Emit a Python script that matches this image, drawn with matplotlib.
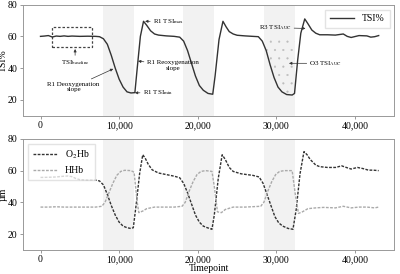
import matplotlib
matplotlib.use('Agg')
import matplotlib.pyplot as plt
from matplotlib.ticker import FuncFormatter

plt.rcParams['font.family'] = ['Liberation Serif', 'DejaVu Serif']
plt.rcParams['mathtext.fontset'] = 'stix'
plt.rcParams['hatch.linewidth'] = 0.3

# timepoints (thousands) and values
tsi_t = [0, 0.5, 1, 1.5, 2, 2.5, 3, 3.5, 4, 5, 6, 7, 7.5, 8, 8.5, 9, 9.5, 10, 10.5, 11, 11.5, 12,
         12.3, 12.7, 13.1, 13.5, 14, 14.5, 15, 16, 17, 17.7, 18.2, 18.7, 19.2, 19.7, 20.2, 20.7, 21.3, 21.9,
         22.2, 22.7, 23.2, 23.6, 24, 24.5, 25, 26, 27, 27.7, 28.2, 28.7, 29.2, 29.7, 30.2, 30.7, 31.3, 32,
         32.3, 32.7, 33.1, 33.6, 34, 34.5, 35, 35.5, 36.5, 37.5, 38.5, 39, 39.5, 40.5, 41.5, 42, 42.5, 43]
tsi = [60, 60.2, 60.5, 59.6, 60.2, 60, 60.3, 60, 60.2, 60, 60.1, 60, 59.8, 58.5, 55, 48, 40, 33, 28, 25, 24.3, 24.5,
       40, 60, 69.5, 67, 63.5, 61.5, 60.8, 60.3, 60, 59.5, 57, 51, 43, 35, 29, 26, 24, 23.5,
       35, 58, 69.5, 66, 63, 61.5, 60.7, 60.3, 60, 59.8, 57, 51, 42, 34, 28, 25, 23.3, 23,
       24, 45, 62, 71, 68, 64, 62, 61, 61, 60.8, 61.5, 60, 59.3, 60.5, 60.3, 59.5, 59.8, 60.5]

o2_t = [0, 1, 2, 3, 3.5, 4, 4.5, 5, 6, 7, 7.5, 8, 8.5, 9, 9.5, 10, 10.5, 11, 11.5, 11.8,
        12.2, 12.6, 13, 13.3, 13.7, 14.2, 15, 16, 17, 17.7, 18.2, 18.7, 19.2, 19.7, 20.2, 20.7, 21.2, 21.8,
        22.1, 22.6, 23.1, 23.5, 24, 24.5, 25.5, 27, 27.8, 28.3, 28.8, 29.3, 29.8, 30.3, 30.8, 31.5, 32.1,
        32.5, 33, 33.5, 33.9, 34.3, 35, 35.5, 36.5, 37.5, 38.3, 39, 39.5, 40.3, 41, 41.7, 42.3, 43]
o2hb = [55.7, 55.8, 56, 56.5, 56.6, 56.2, 55, 54.3, 54, 54, 53.5, 51, 45, 38, 32, 27.5, 25, 24, 23.5, 24,
        40, 58, 70, 68, 64, 60.5, 58.5, 57.5, 56.5, 55.5, 52, 46, 39, 32, 27.5, 25, 24, 23,
        32, 55, 70, 67, 62, 59.5, 58, 57, 56, 52, 45, 38, 31, 27, 25, 23.5, 23,
        35, 58, 72, 70, 67, 63.5, 62.5, 62, 62, 63, 61.8, 61, 62, 61.3, 60.3, 60.3, 60]

hh_t = [0, 1, 2, 3, 4, 5, 6, 7, 7.8, 8.2, 8.7, 9.2, 9.7, 10.2, 10.7, 11.5, 11.9,
        12.3, 12.5, 13, 13.5, 14.5, 16, 17, 18, 18.4, 18.9, 19.4, 19.9, 20.4, 21, 21.8,
        22.1, 22.5, 23, 23.5, 24.5, 26, 28, 28.4, 28.9, 29.4, 29.9, 30.4, 31, 32,
        32.4, 32.8, 33.3, 34, 35, 36, 37.5, 38.5, 39.5, 40.5, 41.5, 42.5, 43]
hhb = [37, 37, 37.2, 37, 37, 37, 37, 37, 37.5, 40, 46, 52, 57, 59.5, 60.2, 60, 59,
       40, 33.5, 34.5, 36, 37, 37, 37, 37.5, 40, 47, 53, 57.5, 59.5, 60, 59.5,
       50, 34, 33.5, 35.5, 37, 37, 37.5, 40, 47, 53, 57.5, 59.5, 60, 60,
       45, 33, 34, 36, 36.5, 36.8, 36.5, 37.5, 36.5, 37, 37, 36.5, 37]

occlusions = [(7.9, 11.9), (18.1, 22.1), (28.4, 32.4)]

tsi_t = [v * 1000 for v in tsi_t]
o2_t = [v * 1000 for v in o2_t]
hh_t = [v * 1000 for v in hh_t]

fig = plt.figure(figsize=(4, 2.74), dpi=100)
ax1 = fig.add_axes([0.058, 0.578, 0.928, 0.405])
ax2 = fig.add_axes([0.058, 0.088, 0.928, 0.405])

for ax in (ax1, ax2):
    for a, b in occlusions:
        ax.axvspan(a * 1000, b * 1000, color='#f2f2f2', lw=0, zorder=0)
    ax.set_xlim(-2200, 45000)
    ax.set_ylim(10, 80)
    ax.set_yticks([20, 40, 60, 80])
    ax.set_xticks([0, 10000, 20000, 30000, 40000])
    ax.xaxis.set_major_formatter(FuncFormatter(lambda v, p: f'{int(v):,}'))
    ax.tick_params(labelsize=7, length=2.5, width=0.6, color='#888888', pad=1.5)
    for s in ax.spines.values():
        s.set_color('#999999')
        s.set_linewidth(0.7)

# top panel
ax1.plot(tsi_t, tsi, color='#333333', lw=1.0, label='TSI%')
auc_t = [t for t in tsi_t if 28400 <= t <= 32400]
auc_v = [v for t, v in zip(tsi_t, tsi) if 28400 <= t <= 32400]
ax1.fill_between(auc_t, auc_v, 60, facecolor='none', edgecolor='#bdbdbd', hatch='..', lw=0, zorder=1)
ax1.add_patch(plt.Rectangle((1500, 53), 5100, 13, fill=False, ls=(0, (2, 1.5)), lw=0.9, ec='#444444'))
ax1.set_ylabel('TSI%', fontsize=7, labelpad=0)
ax1.legend(loc='upper right', fontsize=7, handlelength=2.5, frameon=True, fancybox=False,
           edgecolor='#dddddd', borderpad=0.5)

ap = dict(arrowstyle='-|>', color='#333333', lw=0.5, mutation_scale=4, shrinkA=0, shrinkB=0)
fs = 5
ax1.annotate('TSI$_{\\mathrm{baseline}}$', xy=(4400, 52), xytext=(4400, 43.5), fontsize=fs,
             ha='center', va='center', arrowprops=ap)
ax1.annotate('R1 Deoxygenation\nslope', xy=(9250, 39.5), xytext=(4200, 28), fontsize=fs,
             ha='center', va='center', arrowprops=ap)
ax1.annotate('R1 TSI$_{\\mathrm{max}}$', xy=(13300, 69.5), xytext=(14300, 69.5), fontsize=fs,
             ha='left', va='center', arrowprops=ap)
ax1.annotate('R1 Reoxygenation\nslope', xy=(12400, 44.4), xytext=(13500, 41.8), fontsize=fs,
             ha='left', va='center', multialignment='center', arrowprops=ap)
ax1.annotate('R1 TSI$_{\\mathrm{min}}$', xy=(12000, 24.4), xytext=(13000, 24.4), fontsize=fs,
             ha='left', va='center', arrowprops=ap)
ax1.annotate('R3 TSI$_{\\mathrm{AUC}}$', xy=(33700, 65), xytext=(31900, 65.5), fontsize=fs,
             ha='right', va='center', arrowprops=ap)
ax1.annotate('O3 TSI$_{\\mathrm{AUC}}$', xy=(31600, 43), xytext=(34200, 43), fontsize=fs,
             ha='left', va='center', arrowprops=ap)

# bottom panel
ax2.plot(o2_t, o2hb, color='#333333', lw=1.0, ls=(0, (2, 1)), label='O$_2$Hb')
ax2.plot(hh_t, hhb, color='#aaaaaa', lw=1.0, ls=(0, (2, 1)), label='HHb')
ax2.set_ylabel('µm', fontsize=7, labelpad=0)
ax2.set_xlabel('Timepoint', fontsize=7, labelpad=0)
ax2.legend(loc='upper left', fontsize=7, handlelength=2.5, frameon=True, fancybox=False,
           edgecolor='#dddddd', borderpad=0.5)

fig.savefig('out.png', dpi=100)
